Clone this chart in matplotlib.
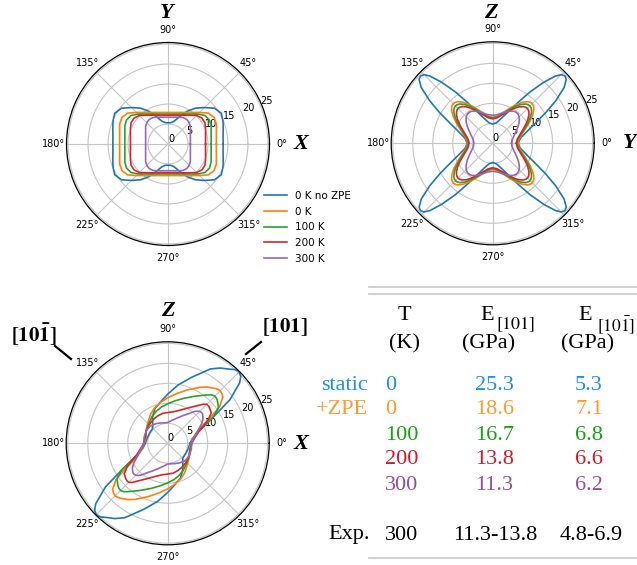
import numpy as np
import matplotlib
matplotlib.use('Agg')
import matplotlib.pyplot as plt
from matplotlib.lines import Line2D

plt.rcParams['mathtext.fontset'] = 'stix'

# ---------------- data ----------------
series_labels = ['0 K no ZPE', '0 K', '100 K', '200 K', '300 K']
line_colors = ['#1f77b4', '#ff7f0e', '#2ca02c', '#d62728', '#9467bd']

# XY plane (top-left), first quadrant, mirrored
xy_angles = [0, 7.5, 15, 22.5, 30, 37.5, 45, 52.5, 60, 67.5, 75, 82.5, 90]
xy_0K_noZPE = [13.8, 13.9, 14.3, 14.9, 15.4, 14.7, 12.9, 11.3, 9.4, 7.3, 5.9, 5.4, 5.3]
xy_0K = [12.1, 12.2, 12.53, 13.09, 13.31, 12.69, 11.17, 9.96, 9.12, 8.55, 8.18, 7.97, 7.9]
xy_100K = [10.8, 10.89, 11.18, 11.69, 12.0, 11.69, 10.61, 9.45, 8.66, 8.12, 7.76, 7.56, 7.5]
xy_200K = [9.4, 9.48, 9.73, 10.17, 10.67, 10.67, 10.11, 9.07, 8.31, 7.79, 7.45, 7.26, 7.2]
xy_300K = [5.6, 5.65, 5.8, 6.06, 6.47, 7.06, 7.54, 7.72, 7.62, 7.25, 6.94, 6.76, 6.7]

# YZ plane (top-right), first quadrant, mirrored
yz_angles = [0, 10, 20, 25, 30, 34, 38, 41, 43, 45, 47, 50, 54, 58, 63, 70, 80, 90]
yz_0K_noZPE = [6.4, 7.0, 9.4, 11.7, 15.3, 19.0, 22.7, 24.4, 24.7, 24.3, 23.0, 20.0, 15.9, 12.2, 9.2, 6.8, 5.2, 4.8]
yz_0K = [6.3, 6.73, 8.12, 9.26, 10.65, 11.87, 12.99, 13.62, 13.89, 14.0, 13.95, 13.59, 12.7, 11.54, 10.07, 8.38, 6.94, 6.5]
yz_100K = [6.1, 6.5, 7.82, 8.87, 10.16, 11.27, 12.29, 12.86, 13.1, 13.2, 13.16, 12.84, 12.03, 10.98, 9.64, 8.07, 6.72, 6.3]
yz_200K = [5.9, 6.28, 7.49, 8.45, 9.61, 10.6, 11.5, 12.0, 12.21, 12.3, 12.27, 11.99, 11.29, 10.36, 9.16, 7.74, 6.49, 6.1]
yz_300K = [4.7, 4.94, 5.7, 6.3, 7.03, 7.69, 8.36, 8.83, 9.11, 9.34, 9.53, 9.7, 9.71, 9.5, 9.01, 8.21, 7.31, 7.0]

# XZ plane (bottom-left), half turn, centrosymmetric
xz_angles = [0, 10, 20, 25, 30, 35, 40, 42.5, 45, 47.5, 50, 55, 60, 70, 80, 90, 100, 110, 120, 135, 150, 165]
xz_0K_noZPE = [5.6, 6.2, 8.0, 9.8, 13.2, 19.0, 23.5, 24.8, 25.3, 25.0, 24.2, 23.0, 21.5, 17.6, 14.8, 12.3, 10.5, 9.3, 7.6, 5.3, 5.2, 5.3]
xz_0K = [5.9, 6.3, 7.6, 8.8, 11.7, 15.8, 18.0, 18.4, 18.6, 18.4, 18.0, 17.2, 16.2, 14.2, 12.6, 11.4, 10.4, 9.5, 8.5, 7.1, 6.3, 5.6]
xz_100K = [6.0, 6.4, 7.8, 9.8, 13.2, 15.5, 16.3, 16.6, 16.7, 16.4, 15.8, 14.6, 13.6, 12.0, 10.8, 9.9, 9.2, 8.5, 7.8, 6.8, 6.2, 5.8]
xz_200K = [6.0, 6.8, 8.2, 9.6, 11.7, 13.3, 13.7, 13.85, 13.8, 13.3, 12.5, 11.2, 10.2, 8.8, 8.0, 7.7, 7.6, 7.3, 7.0, 6.6, 6.2, 5.9]
xz_300K = [6.0, 6.6, 7.8, 8.6, 9.8, 10.8, 11.4, 11.45, 11.3, 10.9, 10.4, 9.0, 8.1, 6.7, 5.8, 5.2, 5.2, 5.4, 5.7, 6.2, 6.2, 6.1]

r_ticks = [0, 5, 10, 15, 20, 25]
theta_ticks = [0, 45, 90, 135, 180, 225, 270, 315]

# table
table_row_names = ['static', '+ZPE', '', '', '']
table_T = ['0', '0', '100', '200', '300']
table_E101 = ['25.3', '18.6', '16.7', '13.8', '11.3']
table_E10m1 = ['5.3', '7.1', '6.8', '6.6', '6.2']
table_colors = ['#1f8fe0', '#ff9a2e', '#14a014', '#d0182a', '#9a4c9c']
exp_row = ['Exp.', '300', '11.3-13.8', '4.8-6.9']

# ---------------- helpers ----------------
W, H = 637, 565
RMAX = 25.4


def mirror_quadrant(ang, r):
    a = np.asarray(ang, float)
    v = np.asarray(r, float)
    A = np.concatenate([a, 180 - a[::-1][1:], 180 + a[1:], 360 - a[::-1][1:]])
    R = np.concatenate([v, v[::-1][1:], v[1:], v[::-1][1:]])
    return np.deg2rad(A), R


def centro(ang, r):
    a = np.asarray(ang, float)
    v = np.asarray(r, float)
    A = np.concatenate([a, a + 180, [360]])
    R = np.concatenate([v, v, [v[0]]])
    return np.deg2rad(A), R


fig = plt.figure(figsize=(W / 100, H / 100), dpi=100)


def polar_at(cx, cy, rad=101.5):
    ax = fig.add_axes([(cx - rad) / W, 1 - (cy + rad) / H, 2 * rad / W, 2 * rad / H],
                      projection='polar')
    ax.set_ylim(0, RMAX)
    ax.set_yticks(r_ticks)
    ax.set_xticks(np.deg2rad(theta_ticks))
    ax.tick_params(axis='x', labelsize=7, pad=-1.5)
    ax.tick_params(axis='y', labelsize=7)
    ax.grid(color='#c4c4c4', lw=0.8)
    ax.spines['polar'].set_linewidth(0.9)
    return ax


def ftext(x, y, s, **kw):
    fig.text(x / W, 1 - y / H, s, **kw)


axfont = dict(family='Liberation Serif', weight='bold', style='italic', size=16,
              ha='center', va='center')

# top-left XY
ax1 = polar_at(168, 144)
for vals, c, lab in zip([xy_0K_noZPE, xy_0K, xy_100K, xy_200K, xy_300K], line_colors, series_labels):
    t, r = mirror_quadrant(xy_angles, vals)
    ax1.plot(t, r, color=c, lw=1.2, label=lab)
ftext(167, 13, 'Y', **axfont)
ftext(301, 144, 'X', **axfont)

# top-right YZ
ax2 = polar_at(492.7, 143.3)
for vals, c in zip([yz_0K_noZPE, yz_0K, yz_100K, yz_200K, yz_300K], line_colors):
    t, r = mirror_quadrant(yz_angles, vals)
    ax2.plot(t, r, color=c, lw=1.2)
ftext(491, 13, 'Z', **axfont)
ftext(636, 143, 'Y', **{**axfont, 'ha': 'right'})

# bottom-left XZ
ax3 = polar_at(167.7, 443.3)
for vals, c in zip([xz_0K_noZPE, xz_0K, xz_100K, xz_200K, xz_300K], line_colors):
    t, r = centro(xz_angles, vals)
    ax3.plot(t, r, color=c, lw=1.2)
ftext(167.7, 311, 'Z', **axfont)
ftext(301, 444, 'X', **axfont)

ftext(285, 327, r'$\mathbf{[101]}$', size=15, ha='center', va='center')
ftext(34, 335, r'$\mathbf{[10\bar{1}]}$', size=15, ha='center', va='center')
fig.add_artist(Line2D([246 / W, 261 / W], [1 - 354 / H, 1 - 342 / H], color='black', lw=1.6))
fig.add_artist(Line2D([55 / W, 71 / W], [1 - 346 / H, 1 - 359 / H], color='black', lw=1.6))

# legend
h, l = ax1.get_legend_handles_labels()
fig.legend(h, l, loc='upper left', bbox_to_anchor=(264 / W, 1 - 191 / H), frameon=False,
           fontsize=7.5, handlelength=2.2, handletextpad=0.75, labelspacing=0.54,
           borderpad=0, borderaxespad=0)

# table
tfont = dict(family='Liberation Serif', size=16)
gray = '#c8c8c8'
for yy in (287, 294, 558):
    fig.add_artist(Line2D([369 / W, 1.0], [1 - yy / H, 1 - yy / H], color=gray, lw=1.2))

ftext(404, 316, 'T', ha='center', va='center', **tfont)
ftext(404, 344, '(K)', ha='center', va='center', **tfont)
ftext(494, 316, 'E', ha='right', va='center', **tfont)
ftext(496, 325, r'$\mathrm{[101]}$', ha='left', va='center', size=13)
ftext(489, 344, '(GPa)', ha='center', va='center', **tfont)
ftext(592, 316, 'E', ha='right', va='center', **tfont)
ftext(597, 325, r'$\mathrm{[10\bar{1}]}$', ha='left', va='center', size=12.5)
ftext(588, 344, '(GPa)', ha='center', va='center', **tfont)

row_y = [385, 410, 435, 460, 485]
for y, name, T, e1, e2, c in zip(row_y, table_row_names, table_T, table_E101, table_E10m1, table_colors):
    if name:
        ftext(368, y, name, ha='right', va='center', color=c, **tfont)
    ftext(385, y, T, ha='left', va='center', color=c, **tfont)
    ftext(494.5, y, e1, ha='center', va='center', color=c, **tfont)
    ftext(589, y, e2, ha='center', va='center', color=c, **tfont)

ftext(370, 535, exp_row[0], ha='right', va='center', **tfont)
ftext(385, 535, exp_row[1], ha='left', va='center', **tfont)
ftext(495, 535, exp_row[2], ha='center', va='center', **tfont)
ftext(591, 535, exp_row[3], ha='center', va='center', **tfont)

fig.savefig('out.png', dpi=100)
